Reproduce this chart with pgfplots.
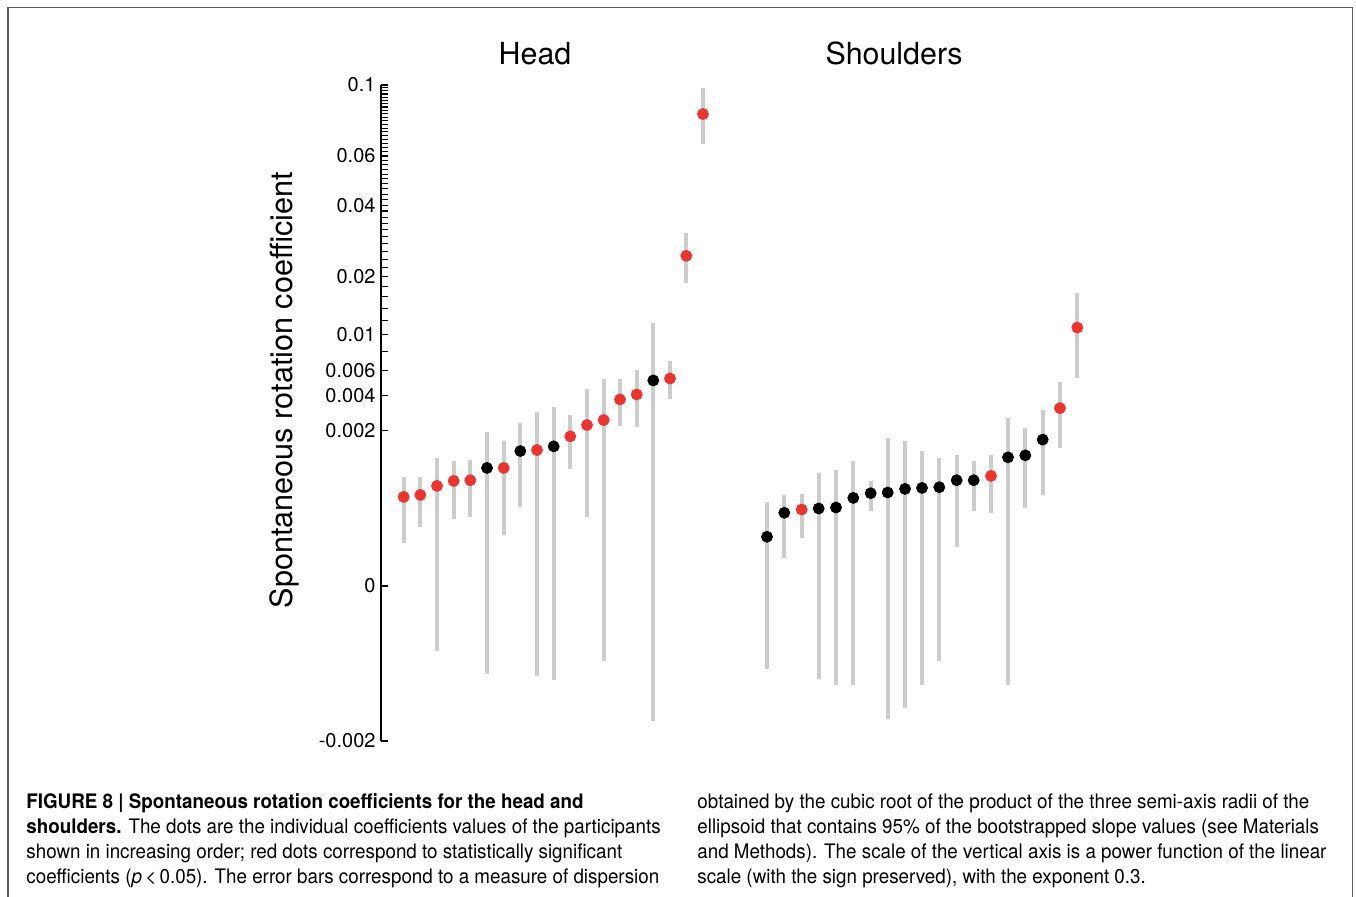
\documentclass[border=0pt]{standalone}
\usepackage{fontspec}
\setmainfont{TeX Gyre Heros}
\newfontfamily\capfont[FakeStretch=0.94]{TeX Gyre Heros}
\usepackage{pgfplots}
\pgfplotsset{compat=1.18}
\usepackage{pgfplotstable}
\definecolor{dotred}{RGB}{237,51,46}
\definecolor{bargray}{RGB}{204,204,204}
\definecolor{framegray}{RGB}{90,90,90}

% y values are on the plotted scale: sign(v)*|v|^0.3
\pgfplotstableread{
x y lo hi s
403.7 0.0891 0.0429 0.1091 1
420.3 0.0911 0.0589 0.1091 1
437.0 0.1001 -0.0646 0.1280 1
453.7 0.1051 0.0666 0.1254 1
470.3 0.1058 0.0692 0.1260 1
487.0 0.1181 -0.0878 0.1537 0
503.7 0.1181 0.0506 0.1450 1
520.3 0.1350 0.0791 0.1627 0
537.0 0.1360 -0.0901 0.1740 1
553.7 0.1397 -0.0945 0.1789 0
570.3 0.1497 0.1171 0.1714 1
587.0 0.1610 0.0692 0.1969 1
603.7 0.1660 -0.0751 0.2073 1
620.0 0.1866 0.1600 0.2066 1
636.7 0.1916 0.1590 0.2159 1
653.3 0.2056 -0.1354 0.2628 0
670.0 0.2076 0.1869 0.2246 1
686.3 0.3303 0.3031 0.3530 1
703.0 0.4721 0.4421 0.4983 1
}\headdata

\pgfplotstableread{
x y lo hi s
767.0 0.0492 -0.0835 0.0845 0
784.3 0.0732 0.0276 0.0915 0
801.7 0.0765 0.0482 0.0921 1
818.7 0.0775 -0.0928 0.1128 0
836.0 0.0785 -0.0988 0.1165 0
853.3 0.0881 -0.0995 0.1250 0
870.7 0.0928 0.0755 0.1055 0
887.7 0.0935 -0.1334 0.1480 0
905.0 0.0971 -0.1221 0.1447 0
922.0 0.0981 -0.0988 0.1347 0
939.3 0.0988 -0.0746 0.1280 0
956.7 0.1058 0.0389 0.1314 0
973.7 0.1058 0.0746 0.1250 0
991.0 0.1101 0.0732 0.1314 1
1008.0 0.1287 -0.0988 0.1677 0
1025.3 0.1307 0.0781 0.1580 0
1042.7 0.1464 0.0911 0.1756 0
1060.0 0.1779 0.1384 0.2043 1
1077.3 0.2585 0.2079 0.2931 1
}\shoulderdata

\begin{document}
\begin{tikzpicture}
\begin{scope}[x=0.5pt,y=-0.5pt]
\path[use as bounding box] (0,0) rectangle (1356,897);
\draw[framegray, line width=0.75pt] (8,897) -- (8,7.5) -- (1352.5,7.5) -- (1352.5,897);
\node[anchor=base, inner sep=0pt, font=\fontsize{15.2}{18}\selectfont] at (535,64.5) {Head};
\node[anchor=base, inner sep=0pt, font=\fontsize{15.2}{18}\selectfont] at (894,64.5) {Shoulders};
\node[rotate=90, anchor=base, inner sep=0pt, font=\fontsize{15.3}{18}\selectfont] at (292,390) {Spontaneous rotation coefficient};
\begin{scope}[every node/.style={anchor=base west, inner sep=0pt, font=\capfont\fontsize{10}{12}\selectfont}]
\node at (26,809) {\textbf{FIGURE 8 | Spontaneous rotation coefficients for the head and}};
\node at (26,834) {\textbf{shoulders.} The dots are the individual coefficients values of the participants};
\node at (26,859) {shown in increasing order; red dots correspond to statistically significant};
\node at (26,884) {coefficients (\textit{p}\,<\,0.05). The error bars correspond to a measure of dispersion};
\node at (697,809) {obtained by the cubic root of the product of the three semi-axis radii of the};
\node at (697,834) {ellipsoid that contains 95\% of the bootstrapped slope values (see Materials};
\node at (697,859) {and Methods). The scale of the vertical axis is a power function of the linear};
\node at (697,884) {scale (with the sign preserved), with the exponent 0.3.};
\end{scope}
\end{scope}
\begin{axis}[
  at={(190.5pt,-370.5pt)}, anchor=south west,
  scale only axis, width=360pt, height=328pt,
  xmin=381, xmax=1101, ymin=-0.1551, ymax=0.5012,
  axis x line=none, axis y line*=left,
  clip=false,
  xtick=\empty,
  ytick={-0.1551,0,0.1551,0.1909,0.2156,0.2513,0.3094,0.3809,0.4302,0.5012},
  yticklabels={-0.002,0,0.002,0.004,0.006,0.01,0.02,0.04,0.06,0.1},
  minor ytick={0.2350,0.2654,0.2780,0.2894,0.2998,0.3184,0.3268,0.3347,0.3423,0.3494,0.3562,0.3628,0.3690,0.3751,0.3865,0.3919,0.3972,0.4023,0.4073,0.4121,0.4168,0.4214,0.4258,0.4344,0.4386,0.4426,0.4466,0.4505,0.4544,0.4581,0.4618,0.4654,0.4689,0.4724,0.4759,0.4792,0.4825,0.4858,0.4890,0.4922,0.4953,0.4984},
  ytick align=inside,
  major tick length=3.5pt, minor tick length=3.5pt,
  every tick/.style={black, line width=0.55pt},
  axis line style={black, line width=0.75pt},
  yticklabel style={font=\fontsize{10}{12}\selectfont, xshift=0.8pt},
]
\addplot[only marks, mark=none, forget plot,
  error bars/.cd, y dir=both, y explicit, error mark=none,
  error bar style={draw=bargray, line width=2pt}]
  table[x=x, y=y, y error plus expr=\thisrow{hi}-\thisrow{y}, y error minus expr=\thisrow{y}-\thisrow{lo}] {\headdata};
\addplot[only marks, mark=none, forget plot,
  error bars/.cd, y dir=both, y explicit, error mark=none,
  error bar style={draw=bargray, line width=2pt}]
  table[x=x, y=y, y error plus expr=\thisrow{hi}-\thisrow{y}, y error minus expr=\thisrow{y}-\thisrow{lo}] {\shoulderdata};
\addplot[scatter, only marks, mark=*, mark size=2.75pt,
  scatter src=explicit symbolic,
  scatter/classes={0={draw=black,fill=black}, 1={draw=dotred,fill=dotred}}]
  table[x=x, y=y, meta=s] {\headdata};
\addplot[scatter, only marks, mark=*, mark size=2.75pt,
  scatter src=explicit symbolic,
  scatter/classes={0={draw=black,fill=black}, 1={draw=dotred,fill=dotred}}]
  table[x=x, y=y, meta=s] {\shoulderdata};
\end{axis}
\end{tikzpicture}
\end{document}
